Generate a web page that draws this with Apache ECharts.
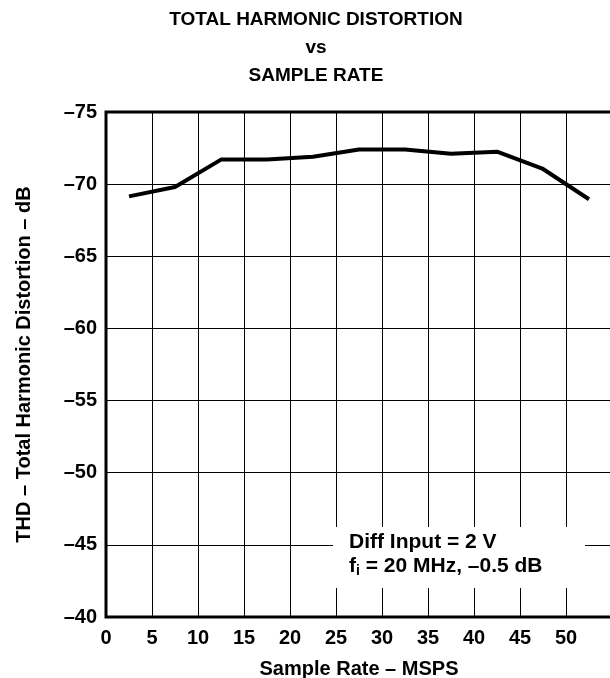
<!DOCTYPE html>
<html>
<head>
<meta charset="utf-8">
<script src="https://cdn.jsdelivr.net/npm/echarts@6/dist/echarts.min.js"></script>
<style>
  html, body { margin: 0; padding: 0; background: #fff; }
  #chart { width: 610px; height: 678px; }
</style>
</head>
<body>
<div id="chart"></div>
<script>
// Sample rate (MSPS) and measured THD (dB)
const sampleRate = [2.5, 7.5, 12.5, 17.5, 22.5, 27.5, 32.5, 37.5, 42.5, 47.5, 52.5];
const thd = [-69.15, -69.8, -71.7, -71.7, -71.9, -72.4, -72.4, -72.1, -72.25, -71.05, -68.95];

const xTicks = [0, 5, 10, 15, 20, 25, 30, 35, 40, 45, 50];
const yTicks = [-75, -70, -65, -60, -55, -50, -45, -40];

const FONT = '"Liberation Sans", Arial, Helvetica, sans-serif';
const dash = v => (v < 0 ? '\u2013' + Math.abs(v) : String(v));

const chart = echarts.init(document.getElementById('chart'), null, { renderer: 'canvas' });

chart.setOption({
  animation: false,
  backgroundColor: '#fff',
  title: {
    text: 'TOTAL HARMONIC DISTORTION\nvs\nSAMPLE RATE',
    left: 316,
    top: 6,
    padding: 0,
    textAlign: 'center',
    textStyle: {
      fontFamily: FONT, fontWeight: 'bold', fontSize: 19,
      color: '#000', lineHeight: 28
    }
  },
  grid: {
    left: 106, top: 112, width: 506, bottom: 61,
    outerBoundsMode: 'none',
    containLabel: false,
    show: true, borderColor: '#000', borderWidth: 3, backgroundColor: 'transparent'
  },
  xAxis: {
    type: 'value',
    min: 0, max: 55, interval: 5,
    name: 'Sample Rate \u2013 MSPS',
    nameLocation: 'middle',
    nameGap: 42,
    nameTextStyle: { fontFamily: FONT, fontWeight: 'bold', fontSize: 20, color: '#000' },
    axisLine: { show: false },
    axisTick: { show: false },
    splitLine: { show: true, lineStyle: { color: '#000', width: 1 } },
    axisLabel: {
      margin: 11,
      fontFamily: FONT, fontWeight: 'bold', fontSize: 20, color: '#000',
      formatter: v => (xTicks.indexOf(v) >= 0 ? dash(v) : '')
    }
  },
  yAxis: {
    type: 'value',
    inverse: true,
    min: -75, max: -40, interval: 5,
    name: 'THD \u2013 Total Harmonic Distortion \u2013 dB',
    nameLocation: 'middle',
    nameGap: 72,
    nameTextStyle: { fontFamily: FONT, fontWeight: 'bold', fontSize: 20, color: '#000' },
    axisLine: { show: false },
    axisTick: { show: false },
    splitLine: { show: true, lineStyle: { color: '#000', width: 1 } },
    axisLabel: {
      margin: 9,
      fontFamily: FONT, fontWeight: 'bold', fontSize: 20, color: '#000',
      formatter: v => (yTicks.indexOf(v) >= 0 ? dash(v) : '')
    }
  },
  series: [{
    type: 'line',
    data: sampleRate.map((x, i) => [x, thd[i]]),
    symbol: 'none',
    lineStyle: { color: '#000', width: 4 },
    z: 5
  }],
  graphic: [
    {
      type: 'rect',
      shape: { x: 333, y: 527, width: 252, height: 61 },
      style: { fill: '#fff' },
      z: 10
    },
    {
      type: 'text',
      left: 349, top: 532,
      z: 11,
      style: {
        text: '{b|Diff Input = 2 V}\n{b|f}{s|i}{b| = 20 MHz, \u20130.5 dB}',
        fontFamily: FONT,
        rich: {
          b: { fontFamily: FONT, fontWeight: 'bold', fontSize: 21, fill: '#000', lineHeight: 24 },
          s: { fontFamily: FONT, fontWeight: 'bold', fontSize: 14, fill: '#000', lineHeight: 24,
               verticalAlign: 'bottom', padding: [9, 0, 0, 0] }
        }
      }
    }
  ]
});
</script>
</body>
</html>
